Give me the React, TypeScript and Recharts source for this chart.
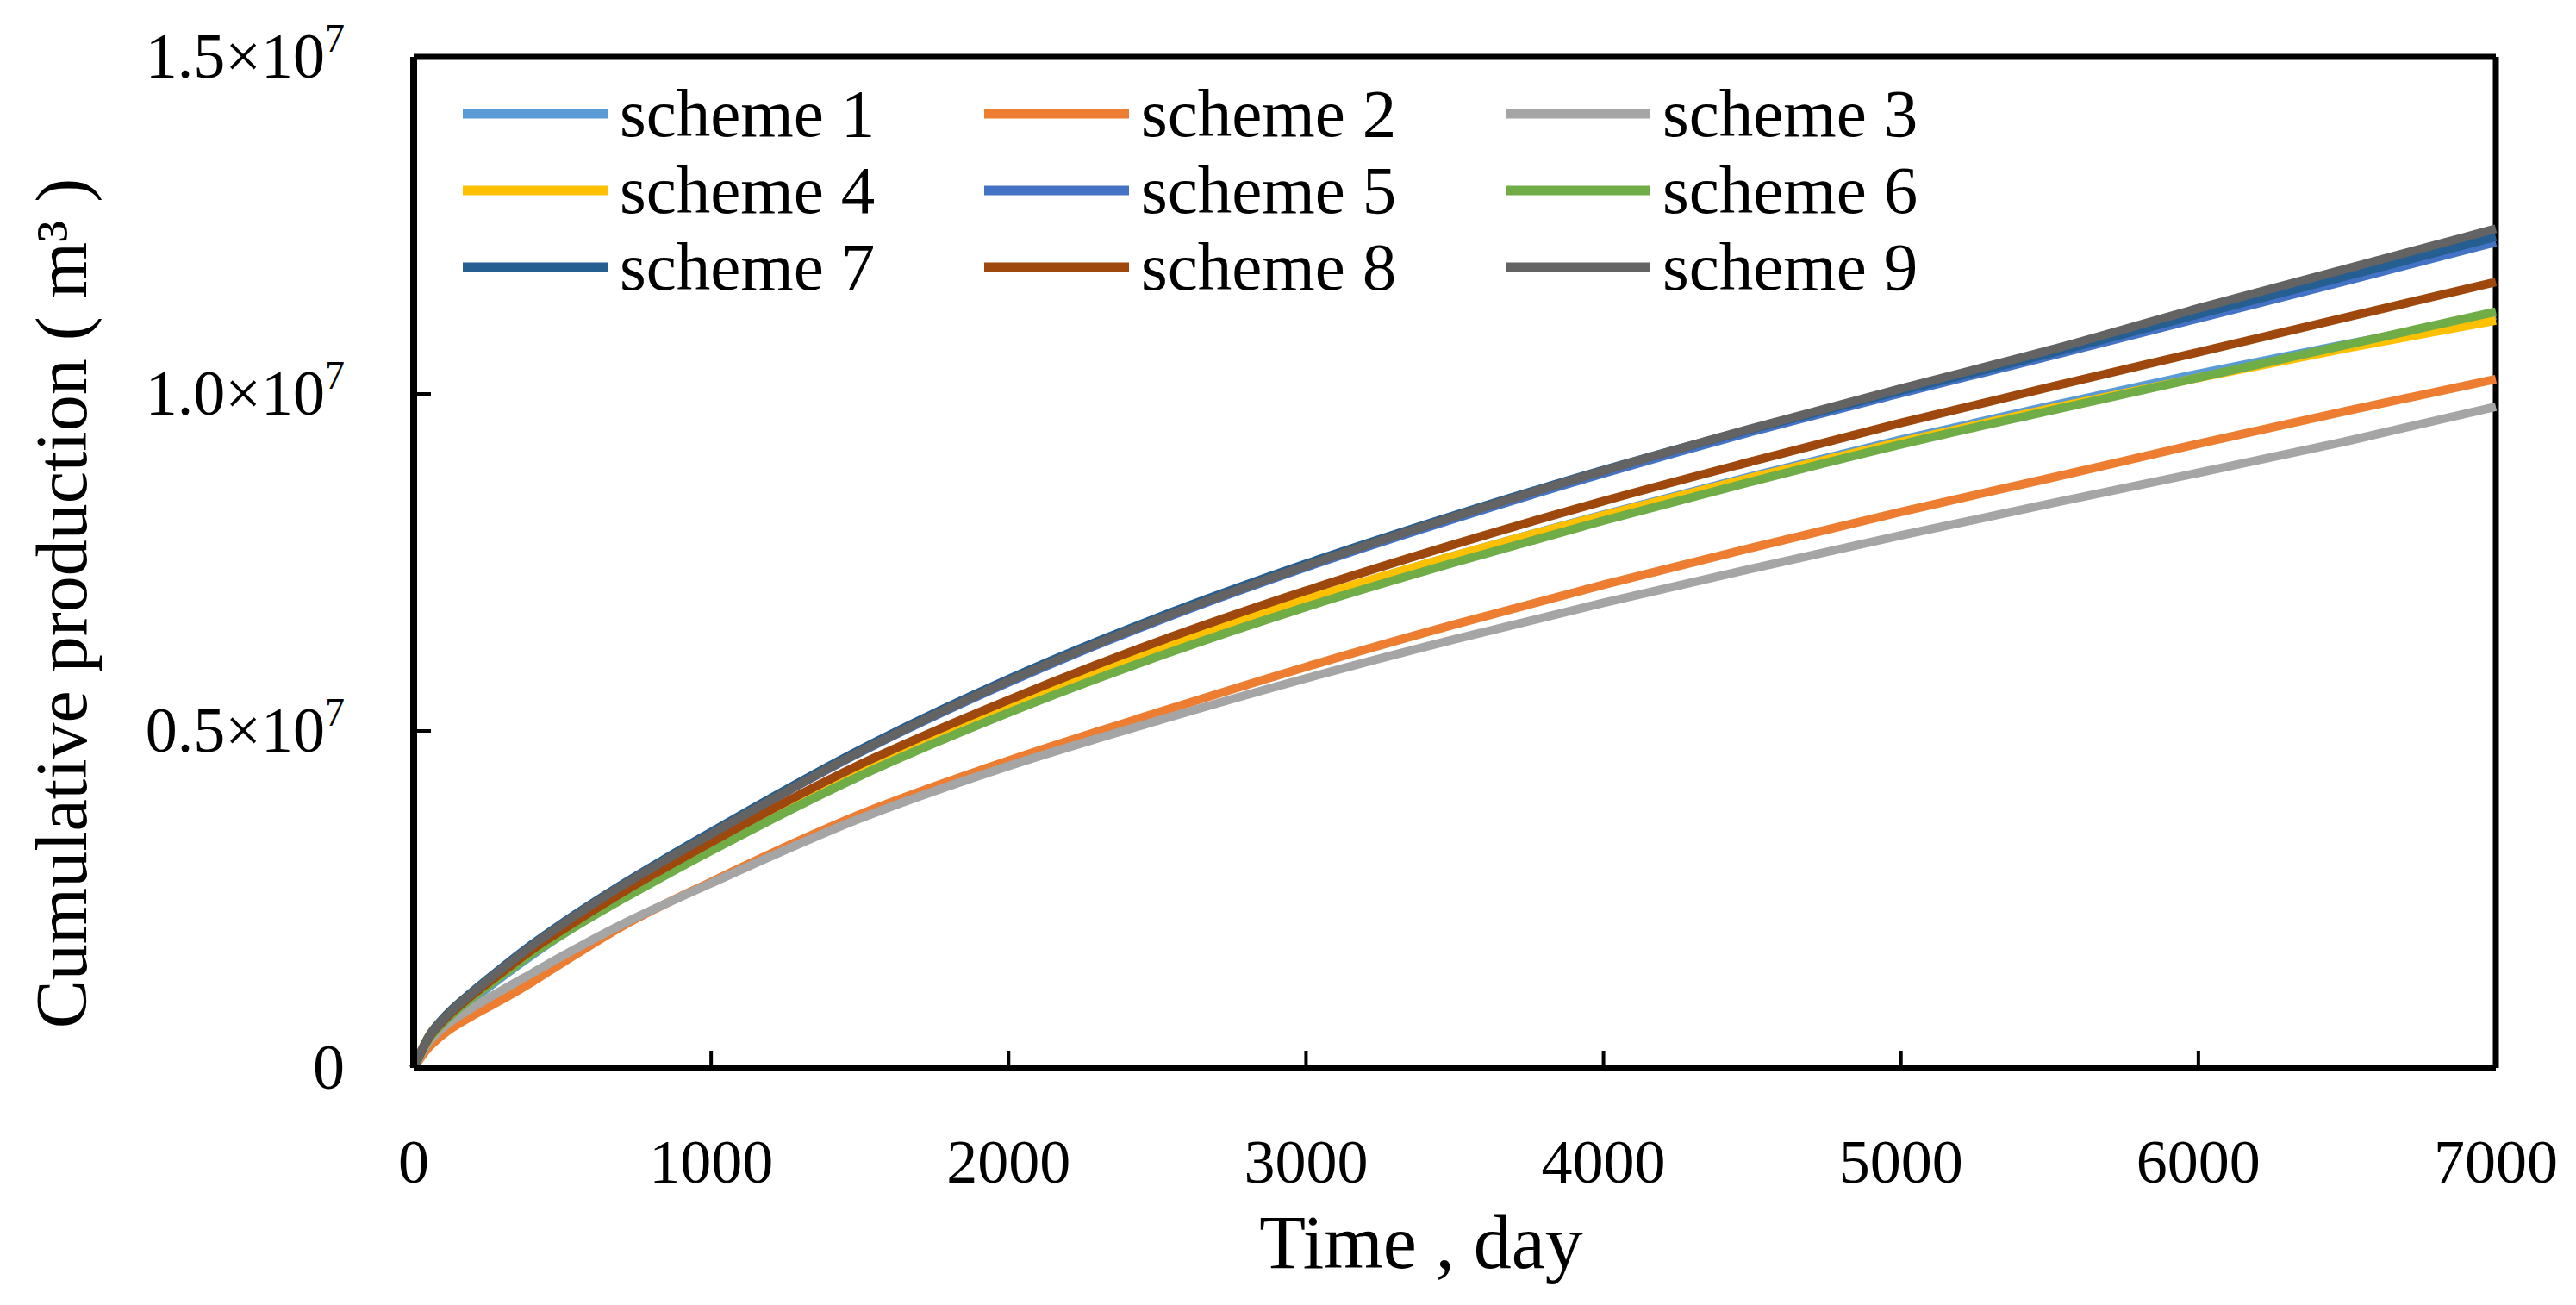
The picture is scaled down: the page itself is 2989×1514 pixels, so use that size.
import { LineChart, Line, XAxis, YAxis, Legend, ReferenceLine, Label } from "recharts";

// time in days, production in 10^6 m3
const time = [0, 50, 100, 200, 300, 400, 500, 700, 1000, 1500, 2000, 2500, 3000, 3500, 4000, 4500, 5000, 5500, 6000, 6500, 7000];
const scheme1 = [0, 0.42, 0.66, 1.02, 1.36, 1.68, 1.98, 2.52, 3.26, 4.4, 5.36, 6.19, 6.94, 7.6, 8.21, 8.78, 9.32, 9.82, 10.3, 10.74, 11.16];
const scheme2 = [0, 0.3, 0.5, 0.78, 1.02, 1.28, 1.56, 2.1, 2.76, 3.76, 4.56, 5.27, 5.95, 6.58, 7.17, 7.72, 8.25, 8.75, 9.26, 9.75, 10.22];
const scheme3 = [0, 0.38, 0.6, 0.9, 1.16, 1.41, 1.66, 2.13, 2.74, 3.7, 4.48, 5.15, 5.78, 6.36, 6.9, 7.41, 7.9, 8.37, 8.83, 9.3, 9.81];
const scheme4 = [0, 0.47, 0.74, 1.14, 1.48, 1.8, 2.08, 2.62, 3.36, 4.47, 5.4, 6.22, 6.95, 7.6, 8.2, 8.76, 9.29, 9.78, 10.24, 10.68, 11.09];
const scheme5 = [0, 0.45, 0.72, 1.12, 1.48, 1.82, 2.13, 2.7, 3.47, 4.68, 5.72, 6.63, 7.43, 8.15, 8.82, 9.44, 10.01, 10.56, 11.12, 11.68, 12.25];
const scheme6 = [0, 0.42, 0.67, 1.05, 1.38, 1.7, 1.98, 2.5, 3.22, 4.33, 5.27, 6.1, 6.84, 7.5, 8.12, 8.7, 9.25, 9.75, 10.24, 10.73, 11.22];
const scheme7 = [0, 0.46, 0.74, 1.14, 1.5, 1.84, 2.15, 2.72, 3.5, 4.72, 5.77, 6.68, 7.48, 8.2, 8.87, 9.48, 10.05, 10.6, 11.18, 11.75, 12.33];
const scheme8 = [0, 0.44, 0.7, 1.09, 1.43, 1.76, 2.05, 2.6, 3.35, 4.5, 5.46, 6.32, 7.08, 7.77, 8.41, 9.0, 9.57, 10.1, 10.62, 11.14, 11.66];
const scheme9 = [0, 0.45, 0.72, 1.12, 1.48, 1.82, 2.13, 2.7, 3.47, 4.69, 5.74, 6.65, 7.45, 8.18, 8.86, 9.49, 10.08, 10.65, 11.27, 11.86, 12.45];

const xTicks = [0, 1000, 2000, 3000, 4000, 5000, 6000, 7000];
const yTicks = [0, 5000000, 10000000, 15000000];

const series = [
  { key: "s1", name: "scheme 1", values: scheme1, color: "#5B9BD5" },
  { key: "s2", name: "scheme 2", values: scheme2, color: "#ED7D31" },
  { key: "s3", name: "scheme 3", values: scheme3, color: "#A5A5A5" },
  { key: "s4", name: "scheme 4", values: scheme4, color: "#FFC000" },
  { key: "s5", name: "scheme 5", values: scheme5, color: "#4472C4" },
  { key: "s6", name: "scheme 6", values: scheme6, color: "#70AD47" },
  { key: "s7", name: "scheme 7", values: scheme7, color: "#255E91" },
  { key: "s8", name: "scheme 8", values: scheme8, color: "#9E480E" },
  { key: "s9", name: "scheme 9", values: scheme9, color: "#636363" },
];

const data = time.map((t, i) => {
  const row: Record<string, number> = { t };
  series.forEach((s) => (row[s.key] = s.values[i] * 1e6));
  return row;
});

const FONT = "'Liberation Serif', 'Times New Roman', serif";

const XTick = ({ x, y, payload }: any) => (
  <g>
    <line x1={x} y1={y} x2={x} y2={y - 20} stroke="#000" strokeWidth={4} />
    <text x={x} y={y + 133} textAnchor="middle" fontSize={72} fontFamily={FONT} fill="#000">
      {payload.value}
    </text>
  </g>
);

const YTick = ({ x, y, payload }: any) => {
  const v = payload.value;
  return (
    <g>
      <line x1={x} y1={y} x2={x + 20} y2={y} stroke="#000" strokeWidth={4} />
      <text x={x - 80} y={y + 24} textAnchor="end" fontSize={74} fontFamily={FONT} fill="#000">
        {v === 0 ? (
          "0"
        ) : (
          <>
            {(v / 1e7).toFixed(1)}×10
            <tspan dy={-30} fontSize={46}>7</tspan>
          </>
        )}
      </text>
    </g>
  );
};

const LegendGrid = ({ payload }: any) => (
  <div style={{ display: "grid", gridTemplateColumns: "605px 605px 605px", fontFamily: FONT }}>
    {(payload || []).map((p: any) => (
      <div key={p.value} style={{ display: "flex", alignItems: "center", height: 89 }}>
        <svg width={168} height={14}>
          <line x1={0} y1={7} x2={168} y2={7} stroke={p.color} strokeWidth={11} />
        </svg>
        <span style={{ fontSize: 79, lineHeight: "89px", marginLeft: 14, color: "#000" }}>{p.value}</span>
      </div>
    ))}
  </div>
);

export default function App() {
  return (
    <div style={{ position: "absolute", left: 0, top: 0, background: "#fff", fontFamily: FONT }}>
      <LineChart width={2989} height={1514} data={data} margin={{ top: 66, right: 93, bottom: 0, left: 0 }}>
        <XAxis
          dataKey="t"
          type="number"
          domain={[0, 7000]}
          ticks={xTicks}
          height={275}
          tickSize={0}
          tickMargin={0}
          tickLine={false}
          axisLine={{ stroke: "#000", strokeWidth: 8 }}
          tick={<XTick />}
        >
          <Label
            content={({ viewBox }: any) => (
              <text x={viewBox.x + 1169} y={viewBox.y + 232} textAnchor="middle" fontSize={88} fontFamily={FONT} fill="#000">
                Time , day
              </text>
            )}
          />
        </XAxis>
        <YAxis
          type="number"
          domain={[0, 15000000]}
          ticks={yTicks}
          width={480}
          tickSize={0}
          tickMargin={0}
          tickLine={false}
          axisLine={{ stroke: "#000", strokeWidth: 8 }}
          tick={<YTick />}
        >
          <Label
            content={({ viewBox }: any) => {
              const cx = viewBox.x + 100;
              const cy = 700;
              return (
                <text x={cx} y={cy} transform={`rotate(-90 ${cx} ${cy})`} textAnchor="middle" fontSize={84} fontFamily={FONT} fill="#000">
                  Cumulative production ( m³ )
                </text>
              );
            }}
          />
        </YAxis>
        <ReferenceLine y={15000000} stroke="#000" strokeWidth={7} />
        <ReferenceLine x={7000} stroke="#000" strokeWidth={7} />
        <Legend
          layout="horizontal"
          verticalAlign="middle"
          align="center"
          wrapperStyle={{ left: 537, top: 87, width: 1850 }}
          content={<LegendGrid />}
        />
        {series.map((s) => (
          <Line
            key={s.key}
            dataKey={s.key}
            name={s.name}
            stroke={s.color}
            strokeWidth={10}
            type="monotone"
            dot={false}
            isAnimationActive={false}
          />
        ))}
      </LineChart>
    </div>
  );
}
